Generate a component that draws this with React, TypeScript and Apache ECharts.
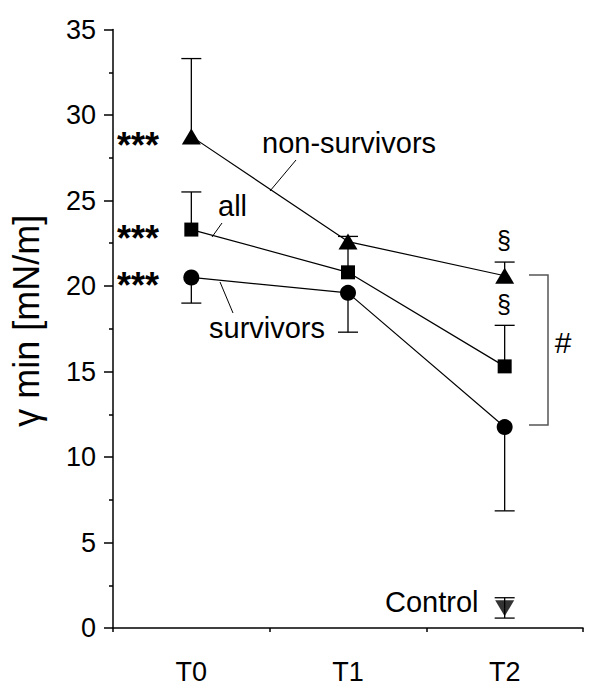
import React, { useEffect, useRef } from "react";
import * as echarts from "echarts";

const categories = ["T0", "T1", "T2"];
const nonSurvivors = [28.75, 22.6, 20.6];
const allPatients = [23.3, 20.8, 15.3];
const survivors = [20.5, 19.6, 11.75];
const nonSurvivorsUpper = [33.3, 22.9, 21.4];
const allUpper = [25.5, 22.4, 17.7];
const survivorsLower = [19.0, 17.3, 6.85];
const controlIndex = 2;
const controlValue = 1.15;
const controlLow = 0.58;
const controlHigh = 1.77;
const yMin = 0;
const yMax = 35;
const yInterval = 5;

const FONT = "'Liberation Sans', Arial, Helvetica, sans-serif";

export default function App() {
  const ref = useRef<HTMLDivElement>(null);
  useEffect(() => {
    if (!ref.current) return;
    const chart = echarts.init(ref.current, null, { renderer: "svg" });

    // error bars: [categoryIndex, from, to, cap] -> cap drawn at "to"
    const errData: number[][] = [];
    categories.forEach((_, i) => {
      errData.push([i, nonSurvivors[i], nonSurvivorsUpper[i], 1]);
      errData.push([i, allPatients[i], allUpper[i], i === 1 ? 0 : 1]);
      errData.push([i, survivors[i], survivorsLower[i], 1]);
    });
    errData.push([controlIndex, controlValue, controlHigh, 1]);
    errData.push([controlIndex, controlValue, controlLow, 1]);

    const lineCommon = {
      type: "line",
      lineStyle: { color: "#000", width: 1.2 },
      itemStyle: { color: "#000" },
      z: 3,
    };

    const txt = (
      text: string,
      x: number,
      y: number,
      size: number,
      align = "left",
      weight = "normal"
    ) => ({
      type: "text",
      x,
      y,
      style: {
        text,
        fill: "#000",
        fontSize: size,
        fontWeight: weight,
        fontFamily: FONT,
        textAlign: align,
        textVerticalAlign: "middle",
        align,
        verticalAlign: "middle",
      },
    });
    const seg = (x1: number, y1: number, x2: number, y2: number) => ({
      type: "line",
      shape: { x1, y1, x2, y2 },
      style: { stroke: "#000", lineWidth: 1 },
    });

    chart.setOption({
      animation: false,
      grid: { left: 107, right: 17, top: 29.5, bottom: 71 },
      xAxis: [
        {
          type: "category",
          data: categories,
          boundaryGap: true,
          axisLine: { lineStyle: { color: "#000", width: 1.5 } },
          axisTick: { alignWithLabel: true, length: 9, lineStyle: { color: "#000", width: 1.5 } },
          axisLabel: { color: "#000", fontSize: 27, fontFamily: FONT, margin: 30 },
          splitLine: { show: false },
        },
        {
          type: "category",
          data: categories,
          position: "bottom",
          boundaryGap: true,
          axisLine: { show: false },
          axisTick: { show: true, length: 4, lineStyle: { color: "#000", width: 1.5 } },
          axisLabel: { show: false },
          splitLine: { show: false },
        },
      ],
      yAxis: {
        type: "value",
        min: yMin,
        max: yMax,
        interval: yInterval,
        name: "γ min [mN/m]",
        nameLocation: "middle",
        nameGap: 69,
        nameTextStyle: { color: "#000", fontSize: 36, fontFamily: FONT, padding: [0, 0, 0, 16] },
        axisLine: { show: true, lineStyle: { color: "#000", width: 1.5 } },
        axisTick: { show: true, length: 9, lineStyle: { color: "#000", width: 1.5 } },
        minorTick: { show: true, splitNumber: 2, length: 4, lineStyle: { color: "#000", width: 1.5 } },
        axisLabel: { color: "#000", fontSize: 27, fontFamily: FONT, margin: 17 },
        splitLine: { show: false },
        minorSplitLine: { show: false },
      },
      series: [
        {
          type: "custom",
          z: 2,
          data: errData,
          renderItem: (params: any, api: any) => {
            const x = api.value(0);
            const p1 = api.coord([x, api.value(1)]);
            const p2 = api.coord([x, api.value(2)]);
            const children: any[] = [
              {
                type: "line",
                shape: { x1: p1[0], y1: p1[1], x2: p2[0], y2: p2[1] },
                style: { stroke: "#000", lineWidth: 1.3 },
              },
            ];
            if (api.value(3) === 1) {
              children.push({
                type: "line",
                shape: { x1: p2[0] - 10, y1: p2[1], x2: p2[0] + 10, y2: p2[1] },
                style: { stroke: "#000", lineWidth: 1.3 },
              });
            }
            return { type: "group", children };
          },
        },
        { ...lineCommon, name: "non-survivors", data: nonSurvivors, symbol: "triangle", symbolSize: [19, 16] },
        { ...lineCommon, name: "all", data: allPatients, symbol: "rect", symbolSize: 14 },
        { ...lineCommon, name: "survivors", data: survivors, symbol: "circle", symbolSize: 16 },
        {
          type: "scatter",
          name: "Control",
          data: [[controlIndex, controlValue]],
          symbol: "triangle",
          symbolRotate: 180,
          symbolSize: [19, 16],
          itemStyle: { color: "#000" },
          z: 3,
        },
      ],
      graphic: [
        txt("non-survivors", 262, 143, 29),
        txt("all", 218, 206, 29),
        txt("survivors", 209, 328, 29),
        txt("***", 117, 145, 36, "left", "bold"),
        txt("***", 117, 238, 36, "left", "bold"),
        txt("***", 117, 285, 36, "left", "bold"),
        txt("§", 504, 240, 25, "center"),
        txt("§", 504, 304, 25, "center"),
        txt("#", 563, 342, 30, "center"),
        txt("Control", 385, 602, 29),
        seg(296, 160, 270, 191),
        seg(222, 223, 212, 237),
        seg(220, 282, 233, 313),
        {
          type: "polyline",
          shape: { points: [[529, 275], [548, 275], [548, 425], [529, 425]] },
          style: { stroke: "#555", lineWidth: 1.5, fill: "none" },
        },
      ],
    });
    return () => chart.dispose();
  }, []);
  return (
    <div
      ref={ref}
      style={{ position: "fixed", left: 0, top: 0, width: 600, height: 699, background: "#fff" }}
    />
  );
}
